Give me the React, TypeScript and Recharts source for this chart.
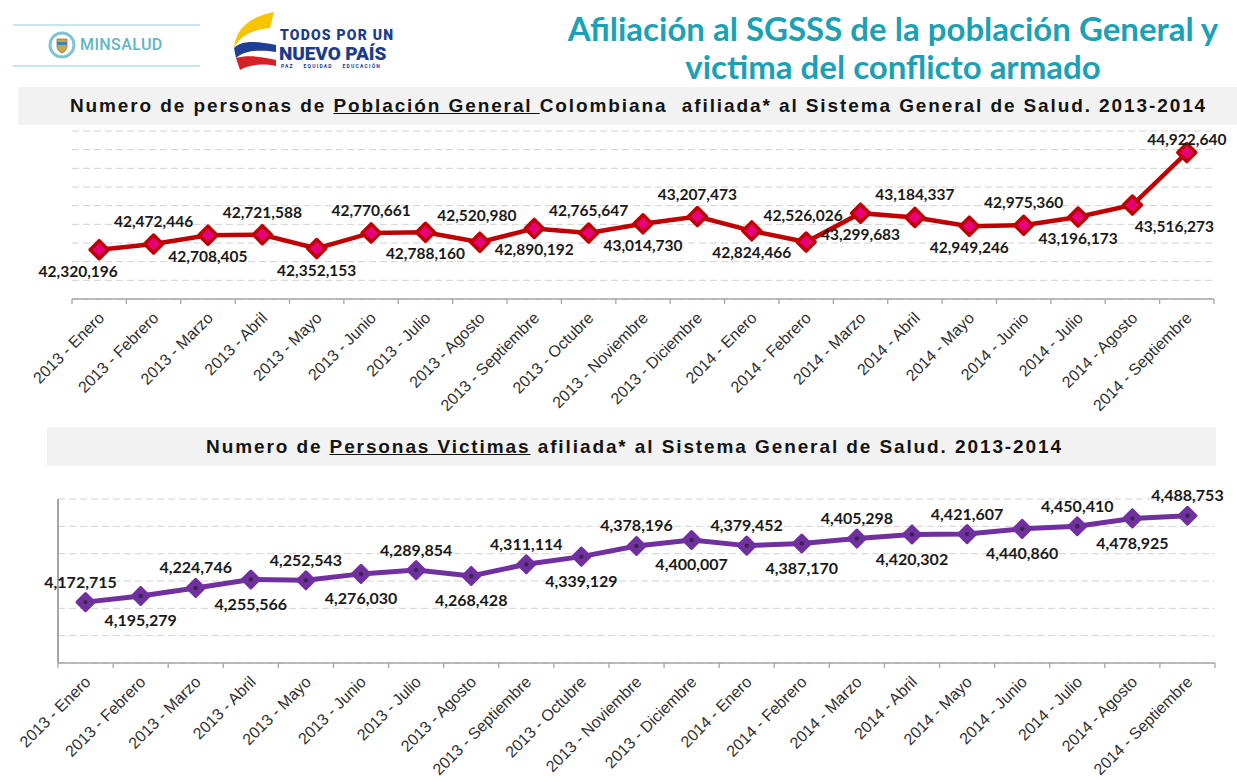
import React from 'react';
import { LineChart, Line, XAxis, YAxis, CartesianGrid, LabelList, ReferenceLine } from 'recharts';

// ---------- DATA ----------
const categories = [
  '2013 - Enero', '2013 - Febrero', '2013 - Marzo', '2013 - Abril', '2013 - Mayo',
  '2013 - Junio', '2013 - Julio', '2013 - Agosto', '2013 - Septiembre', '2013 - Octubre',
  '2013 - Noviembre', '2013 - Diciembre', '2014 - Enero', '2014 - Febrero', '2014 - Marzo',
  '2014 - Abril', '2014 - Mayo', '2014 - Junio', '2014 - Julio', '2014 - Agosto',
  '2014 - Septiembre',
];

const poblacionGeneral = [
  42320196, 42472446, 42708405, 42721588, 42352153, 42770661, 42788160, 42520980,
  42890192, 42765647, 43014730, 43207473, 42824466, 42526026, 43299683, 43184337,
  42949246, 42975360, 43196173, 43516273, 44922640,
];

const victimas = [
  4172715, 4195279, 4224746, 4255566, 4252543, 4276030, 4289854, 4268428, 4311114,
  4339129, 4378196, 4400007, 4379452, 4387170, 4405298, 4420302, 4421607, 4440860,
  4450410, 4478925, 4488753,
];

const generalTicks = [
  41000000, 41500000, 42000000, 42500000, 43000000, 43500000, 44000000, 44500000,
  45000000, 45500000,
];

const victimasTicks = [3950000, 4050000, 4150000, 4250000, 4350000, 4450000, 4550000];

const generalData = categories.map((mes, i) => ({ mes, valor: poblacionGeneral[i] }));
const victimasData = categories.map((mes, i) => ({ mes, valor: victimas[i] }));

// ---------- STYLE ----------
const AXIS = '#a6a6a6';
const GRID = '#d2d2d2';
const RED = '#C00000';
const PINK = '#E6007A';
const PURPLE = '#7030A0';
const TEAL = '#1aa1b6';
const W = 1237;

const fmt = (v: number) => v.toLocaleString('en-US');

function makeTick(band: number, count: number) {
  return (props: any) => {
    const { x, y, payload, index } = props;
    const h = band / 2;
    const ax = x + 6;
    const ay = y + 20;
    return (
      <g>
        <line x1={x - h} x2={x - h} y1={y} y2={y + 5} stroke={AXIS} strokeWidth={1.3} />
        {index === count - 1 && (
          <line x1={x + h} x2={x + h} y1={y} y2={y + 5} stroke={AXIS} strokeWidth={1.3} />
        )}
        <text
          x={ax}
          y={ay}
          textAnchor="end"
          transform={`rotate(-45, ${ax}, ${ay})`}
          fontFamily="'Liberation Sans', Arial, sans-serif"
          fontSize={16}
          fill="#303030"
        >
          {payload.value}
        </text>
      </g>
    );
  };
}

function gridFrom(ticks: number[]) {
  const min = ticks[0];
  const max = ticks[ticks.length - 1];
  return (props: any) => {
    const s = props && props.yAxis && props.yAxis.scale;
    if (typeof s === 'function') return ticks.map((t) => s(t));
    if (s && typeof s.map === 'function') return ticks.map((t) => s.map(t));
    const off = (props && props.offset) || {};
    const top = off.top || 0;
    const height = off.height || 0;
    return ticks.map((t) => top + (height * (max - t)) / (max - min));
  };
}

const RedDiamond = (props: any) => {
  const { cx, cy, index } = props;
  if (cx == null || cy == null) return <g key={`rd-${index}`} />;
  const s = 9;
  return (
    <g key={`rd-${index}`}>
      <polygon
        points={`${cx},${cy - s} ${cx + s},${cy} ${cx},${cy + s} ${cx - s},${cy}`}
        fill={PINK}
        stroke={RED}
        strokeWidth={3.5}
        strokeLinejoin="round"
      />
    </g>
  );
};

const PurpleDiamond = (props: any) => {
  const { cx, cy, index } = props;
  if (cx == null || cy == null) return <g key={`pd-${index}`} />;
  const s = 8.5;
  return (
    <g key={`pd-${index}`}>
      <polygon
        points={`${cx},${cy - s} ${cx + s},${cy} ${cx},${cy + s} ${cx - s},${cy}`}
        fill={PURPLE}
        stroke={PURPLE}
        strokeWidth={3}
        strokeLinejoin="round"
      />
      <circle cx={cx} cy={cy} r={2.2} fill="#3a2748" />
    </g>
  );
};

function topPlacement(i: number) {
  if (i === 19) return { dx: 42, dy: 21 };
  if (i === 20) return { dx: 0, dy: -14 };
  if (i === 7 || i === 13) return { dx: -3, dy: -27 };
  if (i % 2 === 0) return { dx: i === 0 ? -21 : 0, dy: 21 };
  return { dx: 0, dy: -23 };
}

function bottomPlacement(i: number) {
  if (i % 2 === 0) return { dx: i === 0 ? -5 : 0, dy: -21 };
  return { dx: 0, dy: 24 };
}

function makeLabel(place: (i: number) => { dx: number; dy: number }, size: number) {
  return (props: any) => {
    const { x, y, value, index } = props;
    const p = place(index);
    return (
      <text
        x={x + p.dx}
        y={y + p.dy}
        textAnchor="middle"
        dominantBaseline="central"
        fontFamily="Lato, 'Open Sans', sans-serif"
        fontWeight={700}
        fontSize={size}
        fill="#1a1a1a"
      >
        {fmt(value)}
      </text>
    );
  };
}

const bandTitle: React.CSSProperties = {
  position: 'absolute',
  background: '#f2f2f2',
  display: 'flex',
  alignItems: 'center',
  justifyContent: 'center',
  fontFamily: "'Liberation Sans', Arial, sans-serif",
  fontWeight: 700,
  fontSize: 19,
  color: '#141414',
  whiteSpace: 'pre',
  letterSpacing: 1.9,
};

export default function App() {
  const topPlotL = 72;
  const topPlotR = 1214;
  const botPlotL = 58;
  const botPlotR = 1215;
  const n = categories.length;
  const topBand = (topPlotR - topPlotL) / n;
  const botBand = (botPlotR - botPlotL) / n;

  return (
    <div
      style={{
        position: 'absolute',
        left: 0,
        top: 0,
        width: W,
        height: 780,
        background: '#ffffff',
        overflow: 'hidden',
      }}
    >
      {/* MINSALUD logo */}
      <div style={{ position: 'absolute', left: 13, top: 24, width: 187, height: 2, background: '#c9e6ee' }} />
      <div style={{ position: 'absolute', left: 13, top: 65, width: 187, height: 2, background: '#c9e6ee' }} />
      <svg style={{ position: 'absolute', left: 48, top: 31 }} width={28} height={28}>
        <circle cx={14} cy={14} r={12} fill="#ffffff" stroke="#7cc3d3" strokeWidth={3} />
        <path d="M9,8 L19,8 L19,15 Q19,20 14,22 Q9,20 9,15 Z" fill="#c9a64a" stroke="#8a7a50" strokeWidth={0.8} />
        <rect x={9} y={11} width={10} height={3} fill="#4a7fb5" />
      </svg>
      <div
        style={{
          position: 'absolute',
          left: 80,
          top: 35,
          fontFamily: 'Roboto, sans-serif',
          fontWeight: 500,
          fontSize: 16,
          letterSpacing: 0.4,
          color: '#62b5c6',
          lineHeight: '20px',
        }}
      >
        MINSALUD
      </div>

      {/* TODOS POR UN NUEVO PAIS logo */}
      <svg style={{ position: 'absolute', left: 228, top: 10 }} width={52} height={64}>
        <path d="M46,2 C26,6 8,16 6,38 C12,26 24,20 42,18 Z" fill="#f7c400" />
        <path d="M6,38 C12,31 26,30 48,35 L48,42 C30,39 16,41 8,48 Z" fill="#1e3f94" />
        <path d="M8,48 C18,45 32,46 48,50 L48,56 C32,53 20,55 12,60 Z" fill="#d71f26" />
      </svg>
      <div
        style={{
          position: 'absolute',
          left: 280,
          top: 29,
          fontFamily: 'Roboto, sans-serif',
          fontWeight: 900,
          fontSize: 14,
          color: '#1c3b8c',
          lineHeight: '12px',
          letterSpacing: 1.2,
        }}
      >
        TODOS POR UN
      </div>
      <div
        style={{
          position: 'absolute',
          left: 279,
          top: 46,
          fontFamily: 'Roboto, sans-serif',
          fontWeight: 900,
          fontSize: 19,
          color: '#1c3b8c',
          lineHeight: '15px',
          letterSpacing: -0.1,
        }}
      >
        NUEVO PAÍS
      </div>
      <div
        style={{
          position: 'absolute',
          left: 281,
          top: 63,
          fontFamily: 'Roboto, sans-serif',
          fontWeight: 700,
          fontSize: 5,
          color: '#1c3b8c',
          lineHeight: '6px',
          letterSpacing: 1.2,
          whiteSpace: 'pre',
        }}
      >
        {'PAZ    EQUIDAD    EDUCACIÓN'}
      </div>

      {/* Main title */}
      <div
        style={{
          position: 'absolute',
          left: 530,
          top: 9,
          width: 726,
          textAlign: 'center',
          fontFamily: 'Lato, sans-serif',
          fontWeight: 700,
          fontSize: 33,
          lineHeight: '38px',
          color: TEAL,
        }}
      >
        Afiliación al SGSSS de la población General y
        <br />
        victima del conflicto armado
      </div>

      {/* Chart 1 title band */}
      <div style={{ ...bandTitle, left: 18, top: 87, width: 1219, height: 38 }}>
        <span style={{ paddingLeft: 22 }}>
          Numero de personas de <span style={{ textDecoration: 'underline' }}>Población General </span>
          {'Colombiana  afiliada* al Sistema General de Salud. 2013-2014'}
        </span>
      </div>

      {/* Chart 1 */}
      <div style={{ position: 'absolute', left: 0, top: 120, width: W, height: 310 }}>
        <LineChart
          width={W}
          height={310}
          data={generalData}
          margin={{ top: 11, right: W - topPlotR, left: topPlotL, bottom: 11 }}
        >
          <CartesianGrid
            vertical={false}
            stroke={GRID}
            strokeDasharray="7 4"
            horizontalCoordinatesGenerator={gridFrom(generalTicks)}
          />
          <YAxis
            width={0}
            domain={[generalTicks[0], generalTicks[generalTicks.length - 1]]}
            ticks={generalTicks}
            tick={false}
            axisLine={false}
            tickLine={false}
          />
          <XAxis
            dataKey="mes"
            scale="band"
            interval={0}
            height={120}
            tickSize={0}
            tickMargin={0}
            tickLine={false}
            axisLine={{ stroke: AXIS, strokeWidth: 1.5 }}
            tick={makeTick(topBand, n)}
          />
          <Line
            dataKey="valor"
            stroke={RED}
            strokeWidth={4.5}
            dot={RedDiamond}
            activeDot={false}
            isAnimationActive={false}
          >
            <LabelList dataKey="valor" content={makeLabel(topPlacement, 15.5)} />
          </Line>
        </LineChart>
      </div>

      {/* Chart 2 title band */}
      <div style={{ ...bandTitle, left: 47, top: 427, width: 1169, height: 39 }}>
        <span style={{ paddingLeft: 6 }}>
          Numero de <span style={{ textDecoration: 'underline' }}>Personas Victimas</span>
          {' afiliada* al Sistema General de Salud. 2013-2014'}
        </span>
      </div>

      {/* Chart 2 */}
      <div style={{ position: 'absolute', left: 0, top: 470, width: W, height: 310 }}>
        <LineChart
          width={W}
          height={310}
          data={victimasData}
          margin={{ top: 29, right: W - botPlotR, left: botPlotL, bottom: 7 }}
        >
          <CartesianGrid
            vertical={false}
            stroke={GRID}
            strokeDasharray="7 4"
            horizontalCoordinatesGenerator={gridFrom(victimasTicks)}
          />
          <YAxis
            width={0}
            domain={[victimasTicks[0], victimasTicks[victimasTicks.length - 1]]}
            ticks={victimasTicks}
            tick={false}
            tickLine={false}
            axisLine={{ stroke: AXIS, strokeWidth: 2 }}
          />
          <XAxis
            dataKey="mes"
            scale="band"
            interval={0}
            height={110}
            tickSize={0}
            tickMargin={0}
            tickLine={false}
            axisLine={{ stroke: AXIS, strokeWidth: 1.5 }}
            tick={makeTick(botBand, n)}
          />
          <ReferenceLine
            x={categories[0]}
            position="start"
            stroke={AXIS}
            strokeWidth={2}
            ifOverflow="visible"
          />
          <Line
            dataKey="valor"
            stroke={PURPLE}
            strokeWidth={5}
            dot={PurpleDiamond}
            activeDot={false}
            isAnimationActive={false}
          >
            <LabelList dataKey="valor" content={makeLabel(bottomPlacement, 16)} />
          </Line>
        </LineChart>
      </div>
    </div>
  );
}
